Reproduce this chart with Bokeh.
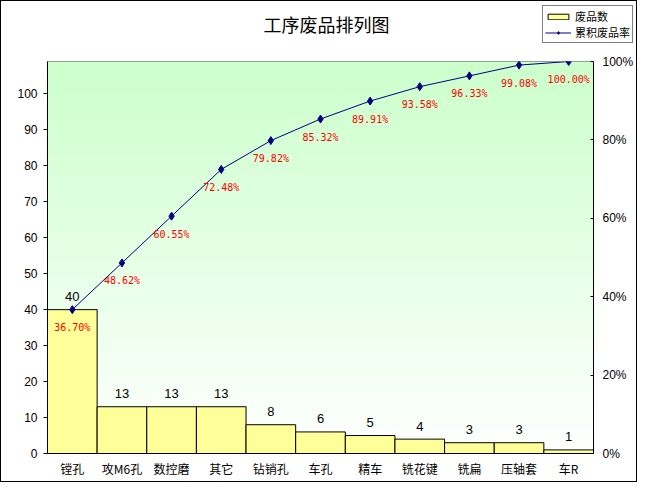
import numpy as np
from bokeh.plotting import figure
from bokeh.layouts import column
from bokeh.models import (ColumnDataSource, Range1d, LinearAxis, FixedTicker, Label,
                          PrintfTickFormatter, LabelSet, Legend, LegendItem, FactorRange)
from bokeh.core.properties import value
from bokeh.embed import file_html
from bokeh.resources import INLINE

categories = ["镗孔", "攻M6孔", "数控磨", "其它", "钻销孔", "车孔", "精车", "铣花键", "铣扁", "压轴套", "车R"]
counts = [40, 13, 13, 13, 8, 6, 5, 4, 3, 3, 1]
cum_pct = [36.70, 48.62, 60.55, 72.48, 79.82, 85.32, 89.91, 93.58, 96.33, 99.08, 100.00]
left_ticks = [0, 10, 20, 30, 40, 50, 60, 70, 80, 90, 100]
right_ticks = [0, 20, 40, 60, 80, 100]
total = sum(counts)

title_text = "工序废品排列图"
legend_labels = ["废品数", "累积废品率"]

CJK = "Noto Sans CJK SC"
BAR_FILL = "#ffff99"
LINE_COL = "#000080"

W = 635
TOP_H = 44
MAIN_H = 480 - TOP_H

# ---------- header strip: title + legend ----------
top = figure(width=W, height=TOP_H, output_backend="svg", toolbar_location=None,
             x_range=Range1d(0, W), y_range=Range1d(0, TOP_H),
             x_axis_type=None, y_axis_type=None, title=None,
             min_border_left=0, min_border_right=0, min_border_top=0, min_border_bottom=0,
             background_fill_color="white", border_fill_color="white")
top.outline_line_color = None
top.grid.visible = False

top.add_layout(Label(x=325, y=TOP_H - 22, text=title_text, text_align="center",
                     text_baseline="middle", text_font=CJK, text_font_size="18px",
                     text_color="black"))

# legend proxies (no visible marks: NaN data)
proxy = ColumnDataSource(dict(x=[float("nan")], y=[float("nan")]))
lb = top.vbar(x="x", top="y", width=1, source=proxy, fill_color=BAR_FILL, line_color="black")
ll = top.line(x="x", y="y", source=proxy, line_color=LINE_COL, line_width=1)
lm = top.scatter(x="x", y="y", source=proxy, marker="diamond", size=8,
                 fill_color=LINE_COL, line_color=LINE_COL)

legend = Legend(items=[LegendItem(label=legend_labels[0], renderers=[lb]),
                       LegendItem(label=legend_labels[1], renderers=[ll, lm])],
                location=(541, 2), orientation="vertical",
                border_line_color="black", border_line_width=1,
                background_fill_color="white", background_fill_alpha=1,
                label_text_font=CJK, label_text_font_size="11px", label_text_color="black",
                glyph_width=26, glyph_height=7, label_height=13, label_standoff=4,
                spacing=0, padding=2, margin=0)
top.add_layout(legend, "center")

# ---------- main chart ----------
src = ColumnDataSource(dict(
    cat=categories, cnt=counts, pct=cum_pct,
    cnt_txt=[str(c) for c in counts],
    pct_txt=["%.2f%%" % v for v in cum_pct],
))

p = figure(width=W, height=MAIN_H, output_backend="svg", toolbar_location=None, title=None,
           x_range=FactorRange(*categories), y_range=Range1d(0, total),
           min_border_left=46, min_border_right=40, min_border_top=16, min_border_bottom=28,
           background_fill_color="white", border_fill_color="white")

# do not align the header's frame with the chart's frame
try:
    top.frame_align = False
    p.frame_align = False
except Exception:
    pass

p.outline_line_color = "#808080"
p.xgrid.visible = False
p.ygrid.visible = False

# gradient background of plot area (light green at top to white at bottom)
n = 200
t = np.linspace(0, 1, n)  # bottom -> top
r = (255 + (204 - 255) * t).astype(np.uint32)
g = np.full(n, 255, dtype=np.uint32)
b = (255 + (204 - 255) * t).astype(np.uint32)
col = (255 << 24) | (b << 16) | (g << 8) | r
img = np.repeat(col[:, None], 2, axis=1).astype(np.uint32)
p.image_rgba(image=[img], x=0, y=0, dw=len(categories), dh=total, level="image")

bars = p.vbar(x="cat", top="cnt", width=1.0, source=src, fill_color=BAR_FILL,
              line_color="black", line_width=1)

p.extra_y_ranges = {"pct": Range1d(0, 100)}
ax2 = LinearAxis(y_range_name="pct", ticker=FixedTicker(ticks=right_ticks),
                 formatter=PrintfTickFormatter(format="%d%%"))
p.add_layout(ax2, "right")

ln = p.line(x="cat", y="pct", source=src, y_range_name="pct", line_color=LINE_COL, line_width=1)
mk = p.scatter(x="cat", y="pct", source=src, y_range_name="pct", marker="diamond", size=8,
               fill_color=LINE_COL, line_color=LINE_COL)

for ax in [p.yaxis[0], ax2]:
    ax.axis_line_color = "black"
    ax.major_tick_line_color = "black"
    ax.minor_tick_line_color = None
    ax.major_label_text_font = "Liberation Sans"
    ax.major_label_text_font_size = "12px"
    ax.major_label_text_color = "black"

p.yaxis[0].ticker = FixedTicker(ticks=left_ticks)
p.yaxis[0].major_tick_out = 4
p.yaxis[0].major_tick_in = 0
p.yaxis[0].major_label_standoff = 6
ax2.major_tick_out = 0
ax2.major_tick_in = 3
ax2.major_label_standoff = 9

xa = p.xaxis[0]
xa.axis_line_color = "black"
xa.major_tick_line_color = None
xa.major_tick_out = 0
xa.major_tick_in = 0
xa.minor_tick_line_color = None
xa.minor_tick_out = 0
xa.major_label_text_font = CJK
xa.major_label_text_font_size = "12px"
xa.major_label_text_color = "black"
xa.major_label_standoff = 6

p.add_layout(LabelSet(x="cat", y="cnt", text="cnt_txt", source=src, y_offset=13,
                      text_align="center", text_baseline="middle",
                      text_font=value("Liberation Sans"), text_font_size="13px",
                      text_color="black"))
p.add_layout(LabelSet(x="cat", y="pct", text="pct_txt", source=src, y_range_name="pct",
                      y_offset=-18, text_align="center", text_baseline="middle",
                      text_font=value("DejaVu Sans Mono"), text_font_size="10px",
                      text_color="red"))

layout = column(top, p, spacing=0, styles={"border": "1px solid black"})

open("out.html", "w").write(file_html(layout, INLINE))
